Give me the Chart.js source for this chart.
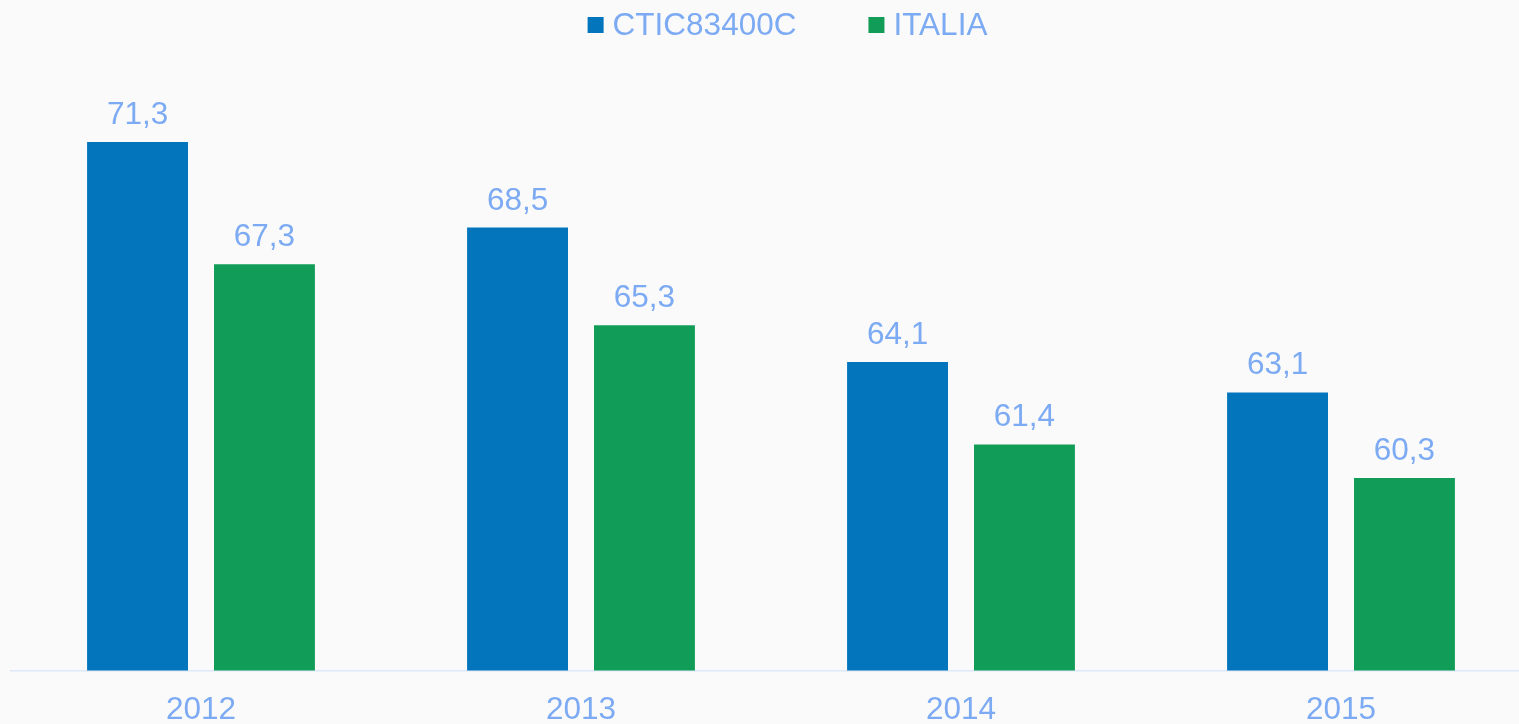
<!DOCTYPE html>
<html>
<head>
<meta charset="utf-8">
<script src="https://cdn.jsdelivr.net/npm/chart.js@4/dist/chart.umd.min.js"></script>
<style>
  html, body { margin: 0; padding: 0; background: #fafafa; overflow: hidden; }
  #wrap { width: 1531px; height: 724px; }
</style>
</head>
<body>
<div id="wrap"><canvas id="c" width="1531" height="724"></canvas></div>
<script>
const categories = ['2012', '2013', '2014', '2015'];
const seriesNames = ['CTIC83400C', 'ITALIA'];
const schoolValues = [71.3, 68.5, 64.1, 63.1];
const italyValues = [67.3, 65.3, 61.4, 60.3];
const seriesColors = ['#0275bd', '#119d57'];

const TEXT_COLOR = '#7caaf3';
const FONT_FAMILY = '"Liberation Sans", Arial, sans-serif';
const FONT_SIZE = 31.5;

const fmt = v => v.toFixed(1).replace('.', ',');

const valueLabels = {
  id: 'valueLabels',
  afterDatasetsDraw(chart) {
    const ctx = chart.ctx;
    ctx.save();
    ctx.font = FONT_SIZE + 'px ' + FONT_FAMILY;
    ctx.fillStyle = TEXT_COLOR;
    ctx.textAlign = 'center';
    ctx.textBaseline = 'alphabetic';
    chart.data.datasets.forEach((ds, i) => {
      const meta = chart.getDatasetMeta(i);
      meta.data.forEach((el, j) => {
        ctx.fillText(fmt(ds.data[j]), el.x, el.y - 18);
      });
    });
    ctx.restore();
  }
};

const customLegend = {
  id: 'customLegend',
  afterDraw(chart) {
    const ctx = chart.ctx;
    ctx.save();
    ctx.font = FONT_SIZE + 'px ' + FONT_FAMILY;
    const box = 16, gap = 9, spacing = 72;
    const items = chart.data.datasets.map(ds => ({ text: ds.label, color: ds.backgroundColor, w: ctx.measureText(ds.label).width }));
    let total = 0;
    items.forEach((it, i) => { total += box + gap + it.w + (i < items.length - 1 ? spacing : 0); });
    let x = 787.5 - total / 2;
    items.forEach(it => {
      ctx.fillStyle = it.color;
      ctx.fillRect(x, 17, box, box);
      ctx.fillStyle = TEXT_COLOR;
      ctx.textAlign = 'left';
      ctx.textBaseline = 'alphabetic';
      ctx.fillText(it.text, x + box + gap, 35);
      x += box + gap + it.w + spacing;
    });
    ctx.restore();
  }
};

new Chart(document.getElementById('c'), {
  type: 'bar',
  data: {
    labels: categories,
    datasets: [
      { label: seriesNames[0], data: schoolValues, backgroundColor: seriesColors[0], borderWidth: 0 },
      { label: seriesNames[1], data: italyValues, backgroundColor: seriesColors[1], borderWidth: 0 }
    ]
  },
  options: {
    responsive: false,
    animation: false,
    events: [],
    categoryPercentage: 0.668,
    barPercentage: 0.795,
    layout: { padding: { left: 11, right: 0, top: 120.6, bottom: 0 } },
    plugins: {
      legend: { display: false },
      tooltip: { enabled: false },
      title: { display: false }
    },
    scales: {
      x: {
        grid: { display: false, drawTicks: false },
        border: { display: true, color: '#dde8f8', width: 1.5 },
        ticks: {
          color: TEXT_COLOR,
          font: { family: FONT_FAMILY, size: FONT_SIZE },
          padding: 21,
          maxRotation: 0
        },
        afterFit(scale) { scale.height = 53.5; }
      },
      y: {
        display: false,
        min: 54,
        max: 72
      }
    }
  },
  plugins: [valueLabels, customLegend]
});
</script>
</body>
</html>
